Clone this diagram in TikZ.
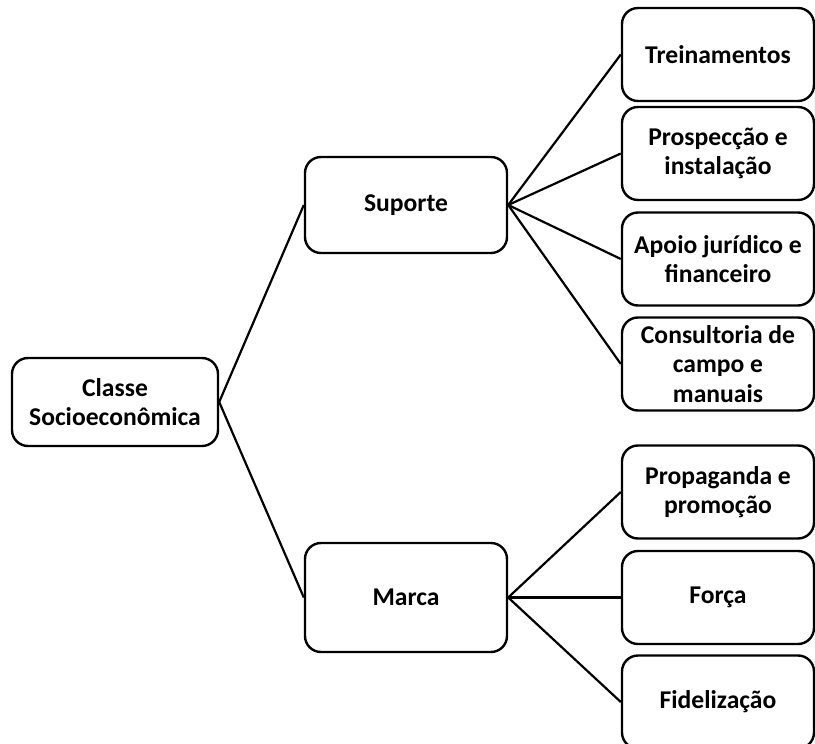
\documentclass[tikz,border=0pt]{standalone}
\usepackage{fontspec}
\setmainfont{Carlito}
\usepackage{tikz}
\usetikzlibrary{positioning, calc}

\tikzset{
    box/.style={draw, line width=1.2pt, rounded corners=8pt, align=center,
        inner sep=2pt, font=\bfseries\fontsize{12.8}{14.8}\selectfont},
    leafbox/.style={box, minimum width=96pt, minimum height=46.5pt},
    link/.style={line width=1.1pt}
}

\begin{document}
\begin{tikzpicture}[x=0.5pt, y=-0.5pt]
\useasboundingbox (0,0) rectangle (815,744);

% Root and main branches
\node[box, minimum width=103pt, minimum height=44pt] (classe) at (115,402) {Classe\\Socioeconômica};
\node[box, minimum width=101pt, minimum height=48pt] (suporte) at (406,205) {Suporte};
\node[box, minimum width=101pt, minimum height=54.5pt] (marca) at (406,597.5) {Marca};

% Leaves of Suporte
\node[leafbox] (trein) at (718,54.5) {Treinamentos};
\node[leafbox] (prosp) at (718,153.5) {Prospecção e\\instalação};
\node[leafbox] (apoio) at (718,259) {Apoio jurídico e\\financeiro};
\node[leafbox] (consult) at (718,364) {Consultoria de\\campo e\\manuais};

% Leaves of Marca
\node[leafbox] (propag) at (718,492) {Propaganda e\\promoção};
\node[leafbox] (forca) at (718,597.5) {Força};
\node[leafbox] (fidel) at (718,702) {Fidelização};

% Connectors
\draw[link] (classe.east) -- (suporte.west);
\draw[link] (classe.east) -- (marca.west);
\foreach \leaf in {trein, prosp, apoio, consult} {
    \draw[link] (suporte.east) -- (\leaf.west);
}
\foreach \leaf in {propag, forca, fidel} {
    \draw[link] (marca.east) -- (\leaf.west);
}
\end{tikzpicture}
\end{document}
